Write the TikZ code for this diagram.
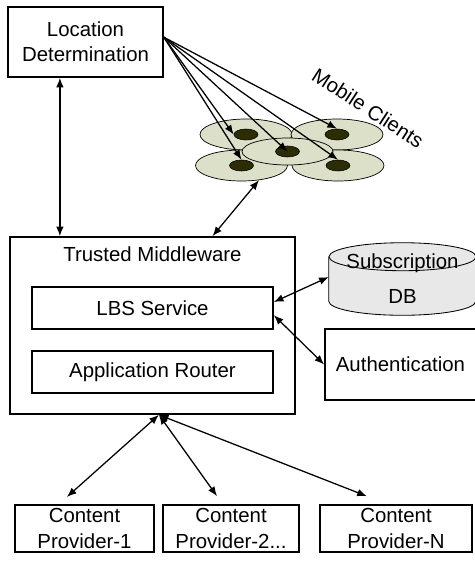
\documentclass[tikz,border=0pt]{standalone}
\usepackage{fontspec}
\setmainfont{Liberation Sans}
\usetikzlibrary{shapes.geometric, arrows.meta, positioning}
\definecolor{cellgreen}{RGB}{221,224,200}
\definecolor{dotolive}{RGB}{45,45,5}
\definecolor{dbgray}{RGB}{232,232,232}

\begin{document}
\begin{tikzpicture}[
    font=\fontsize{14.5}{18}\selectfont,
    >={Latex[length=2.4mm,width=1.9mm]},
    box/.style={rectangle, draw, line width=1.2pt, align=center, inner sep=0pt},
    arrow/.style={<->, line width=0.9pt},
    cell/.style={ellipse, draw, line width=0.5pt, fill=cellgreen, inner sep=0pt,
                 minimum width=2.3cm, minimum height=0.775cm},
    client/.style={ellipse, draw, fill=dotolive, line width=0.4pt, inner sep=0pt,
                   minimum width=0.6cm, minimum height=0.275cm},
    dbend/.style={x radius=1.8375cm, y radius=0.35cm}
]
    \useasboundingbox (0,0) rectangle (11.85,-14.075);

    % Location server
    \node[box, minimum width=3.875cm, minimum height=1.75cm] (loc) at (2.1375,-1.05) {Location\\Determination};

    % Mobile clients (cells)
    \node[cell] (cellTL) at (6.15,-3.3625) {};
    \node[cell] (cellTR) at (8.425,-3.3625) {};
    \node[cell] (cellBL) at (6.0375,-4.1375) {};
    \node[cell] (cellBR) at (8.45,-4.1375) {};
    \node[cell, minimum width=2.275cm, minimum height=0.675cm] (cellC) at (7.1875,-3.7875) {};
    \foreach \c in {TL,TR,BL,BR,C}
        \node[client] (dot\c) at (cell\c) {};
    \node[rotate=-33] (mclabel) at (9.2,-2.7) {Mobile Clients};

    % Location tracking
    \foreach \t in {dotTL.west, dotBL.north, dotC.center, dotTR.north, dotBR.north}
        \draw[->, line width=0.9pt] ([yshift=0.12cm]loc.east) -- (\t);

    % Middleware
    \node[box, minimum width=7.125cm, minimum height=4.425cm] (tm) at (3.8125,-8.1375) {};
    \node[below=0.15cm of tm.north] (tmlabel) {Trusted Middleware};
    \node[box, minimum width=6.025cm, minimum height=1.05cm] (lbs) at (3.8125,-7.7) {LBS Service};
    \node[box, minimum width=6.025cm, minimum height=1.05cm] (router) at (3.8125,-9.3) {Application Router};

    % Subscription DB (cylinder)
    \node[minimum width=3.675cm, minimum height=1.8cm, inner sep=0pt] (db) at (10.0625,-6.975) {};
    \filldraw[fill=dbgray, line width=0.6pt] ([yshift=-0.35cm]db.north west)
        -- ([yshift=0.35cm]db.south west) arc[start angle=180, end angle=360, dbend]
        -- ([yshift=-0.35cm]db.north east);
    \filldraw[fill=dbgray, line width=0.6pt] ([yshift=-0.35cm]db.north) ellipse[dbend];
    \node[align=center] (dblabel) at (db) {Subscription\\[7pt]DB};

    \node[box, minimum width=3.775cm, minimum height=1.775cm] (auth) at (10.0125,-9.1125) {Authentication};

    % Content providers
    \node[box, minimum width=3.475cm, minimum height=1.175cm] (cp1) at (2.1125,-13.2125) {Content\\Provider-1};
    \node[box, minimum width=3.4cm, minimum height=1.175cm] (cp2) at (5.775,-13.2125) {Content\\Provider-2...};
    \node[box, minimum width=3.8cm, minimum height=1.175cm] (cp3) at (9.9,-13.2125) {Content\\Provider-N};

    % Connections
    \draw[arrow] ([xshift=-0.64cm]loc.south) -- ([xshift=-0.64cm]loc.south |- tm.north);
    \draw[arrow] ([xshift=1.5cm]tm.north) -- (cellBL.-40);
    \draw[arrow] ([yshift=0.15cm]lbs.east) -- ([yshift=0.05cm]db.west);
    \draw[arrow] ([yshift=-0.18cm]lbs.east) -- (auth.west);
    \coordinate (hub) at ([xshift=0.16cm]tm.south);
    \draw[arrow] (hub) -- ([shift={(-0.44cm,0.18cm)}]cp1.north);
    \draw[arrow] (hub) -- ([shift={(-0.35cm,0.2cm)}]cp2.north);
    \draw[arrow] (hub) -- ([shift={(-0.73cm,0.2cm)}]cp3.north);

\end{tikzpicture}
\end{document}
